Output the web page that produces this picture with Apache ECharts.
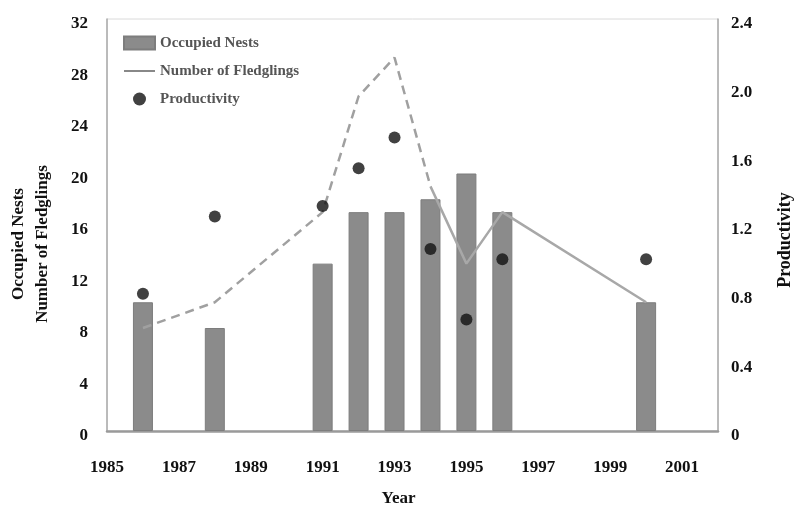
<!DOCTYPE html>
<html>
<head>
<meta charset="utf-8">
<script src="https://cdn.jsdelivr.net/npm/echarts@6/dist/echarts.min.js"></script>
<style>
  html, body { margin: 0; padding: 0; background: #fff; }
  #chart { width: 795px; height: 511px; }
</style>
</head>
<body>
<div id="chart"></div>
<script>
// Survey years with nest counts, fledgling counts and productivity
var years = [1986, 1988, 1991, 1992, 1993, 1994, 1995, 1996, 2000];
var occupiedNests = [10, 8, 13, 17, 17, 18, 20, 17, 10];
var fledglings = [8, 10, 17, 26, 29, 19, 13, 17, 10];
var productivity = [0.8, 1.25, 1.31, 1.53, 1.71, 1.06, 0.65, 1.0, 1.0];
// Fledgling line is dashed through 1994, solid afterwards
var dashedUntilYear = 1994;

var leftTicks = [0, 32, 4];
var rightTicks = [0, 2.4, 0.4];

function pairs(xs, ys) {
  return xs.map(function (x, i) { return [x, ys[i]]; });
}

var nestData = pairs(years, occupiedNests);
var fledgeAll = pairs(years, fledglings);
var fledgeDashed = fledgeAll.filter(function (p) { return p[0] <= dashedUntilYear; });
var fledgeSolid = fledgeAll.filter(function (p) { return p[0] >= dashedUntilYear; });
var prodData = pairs(years, productivity);

var serif = '"Liberation Serif", "DejaVu Serif", serif';
function txt(size, extra) {
  return Object.assign({ fontFamily: serif, fontWeight: 'bold', fontSize: size, color: '#111' }, extra || {});
}

var chart = echarts.init(document.getElementById('chart'), null, { renderer: 'canvas' });
chart.setOption({
  animation: false,
  backgroundColor: '#ffffff',
  grid: {
    left: 107, right: 77, top: 19, bottom: 80,
    containLabel: false, outerBoundsMode: 'none',
    show: true, borderColor: '#dadada', borderWidth: 1, backgroundColor: 'transparent'
  },
  legend: {
    orient: 'vertical',
    left: 118, top: 30,
    itemWidth: 31, itemHeight: 13, itemGap: 12,
    textStyle: txt(15, { color: '#555', lineHeight: 16 }),
    data: [
      { name: 'Occupied Nests', icon: 'rect' },
      { name: 'Number of Fledglings', icon: 'path://M0,6 L31,6 L31,8 L0,8 Z', itemStyle: { color: '#888' } },
      { name: 'Productivity', icon: 'circle', itemStyle: { color: '#111' } }
    ]
  },
  xAxis: {
    type: 'value', min: 1985, max: 2002, interval: 2,
    name: 'Year', nameLocation: 'middle', nameGap: 59,
    nameTextStyle: txt(17, { padding: [0, 28, 0, 0] }),
    axisLine: { show: true, lineStyle: { color: '#9a9a9a', width: 2.5 } },
    axisTick: { show: false },
    splitLine: { show: false },
    axisLabel: Object.assign({ margin: 28, showMaxLabel: false, formatter: function (v) { return String(v); } }, txt(17))
  },
  yAxis: [
    {
      type: 'value', min: leftTicks[0], max: leftTicks[1], interval: leftTicks[2],
      position: 'left',
      name: 'Occupied Nests\nNumber of Fledglings', nameLocation: 'middle', nameGap: 52, nameRotate: 90,
      nameTextStyle: txt(17, { lineHeight: 24, padding: [0, 38, 0, 0] }),
      axisLine: { show: true, lineStyle: { color: '#aaaaaa', width: 1.5 } },
      axisTick: { show: false },
      splitLine: { show: false },
      axisLabel: Object.assign({ margin: 19, verticalAlign: 'top', lineHeight: 10 }, txt(17))
    },
    {
      type: 'value', min: rightTicks[0], max: rightTicks[1], interval: rightTicks[2],
      position: 'right',
      name: 'Productivity', nameLocation: 'middle', nameGap: 58, nameRotate: 90,
      nameTextStyle: txt(18, { padding: [0, 30, 0, 0] }),
      axisLine: { show: true, lineStyle: { color: '#aaaaaa', width: 1.5 } },
      axisTick: { show: false },
      splitLine: { show: false },
      axisLabel: Object.assign({
        margin: 13, verticalAlign: 'top', lineHeight: 10,
        formatter: function (v) { return v === 0 ? '0' : v.toFixed(1); }
      }, txt(17))
    }
  ],
  series: [
    {
      name: 'Occupied Nests', type: 'bar', yAxisIndex: 0, barWidth: 20,
      data: nestData,
      itemStyle: { color: '#8b8b8b', borderColor: '#7d7d7d', borderWidth: 1 },
      z: 2
    },
    {
      name: 'Number of Fledglings', type: 'line', yAxisIndex: 0,
      data: fledgeDashed, showSymbol: false, symbol: 'none',
      lineStyle: { color: '#a0a0a0', width: 2.5, type: [9, 6] },
      itemStyle: { color: '#a0a0a0' },
      z: 3
    },
    {
      name: 'Number of Fledglings', type: 'line', yAxisIndex: 0,
      data: fledgeSolid, showSymbol: false, symbol: 'none',
      lineStyle: { color: '#a8a8a8', width: 2.5, type: 'solid' },
      itemStyle: { color: '#a8a8a8' },
      z: 3
    },
    {
      name: 'Productivity', type: 'scatter', yAxisIndex: 1,
      data: prodData, symbol: 'circle', symbolSize: 12,
      itemStyle: { color: '#111111' },
      z: 4
    }
  ]
});
</script>
</body>
</html>
